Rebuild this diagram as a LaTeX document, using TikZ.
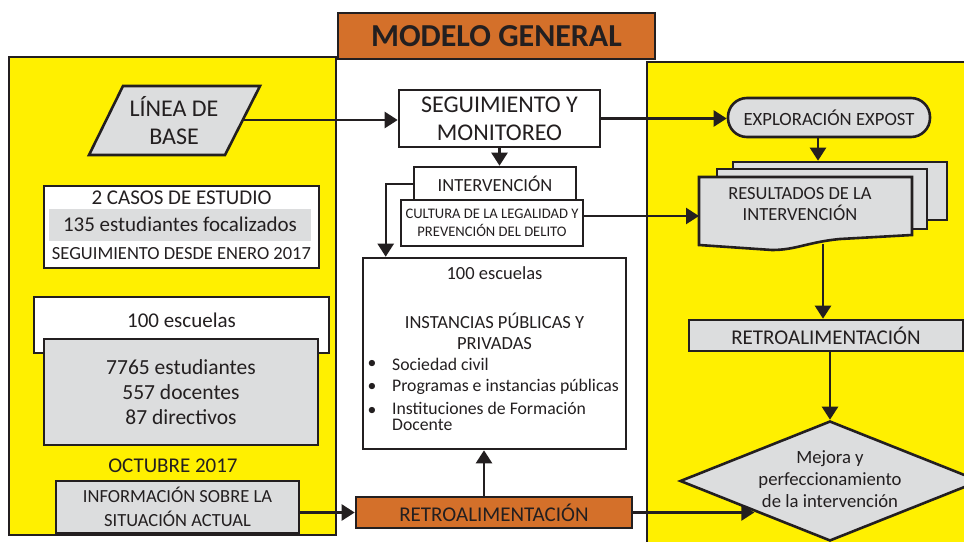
\documentclass[tikz,border=0pt]{standalone}
\usepackage{fontspec}
\setmainfont{Carlito}
\usetikzlibrary{arrows.meta,shapes.geometric}
\definecolor{ylw}{HTML}{FFF000}
\definecolor{org}{HTML}{D4702A}
\definecolor{gry}{HTML}{DCDDDE}
\definecolor{ink}{HTML}{231F20}
\newcommand\myfs[2]{\fontsize{#1}{#2}\selectfont}
\tikzset{
  panel/.style={draw=ink, line width=2.6pt, inner sep=0pt},
  box/.style={draw=ink, line width=2.6pt, inner sep=0pt, align=center, text=ink},
  txt/.style={inner sep=0pt, align=center, text=ink},
  arr/.style={draw=ink, line width=2.4pt, -{Triangle[length=13pt,width=16pt]}},
  ln/.style={draw=ink, line width=2.4pt},
}
\begin{document}
\begin{tikzpicture}[x=1pt,y=-1pt]
\useasboundingbox (0,0) rectangle (964,541);
\clip (0,0) rectangle (964,541);
% panels
\node[panel, fill=ylw, minimum width=327, minimum height=478] (lp) at (172.5,296) {};
\node[panel, fill=ylw, minimum width=353, minimum height=538] (rp) at (823.5,331) {};
% title
\node[box, fill=org, minimum width=317, minimum height=46, font=\bfseries\myfs{32}{34}] (title) at (496.5,36) {MODELO GENERAL};
% left panel
\draw[draw=ink, line width=2.6pt, fill=gry] (123,86) -- (260,86) -- (225,155) -- (89,155) -- cycle;
\node[txt, font=\myfs{24}{28}] (base) at (174,121) {LÍNEA DE\\BASE};
\coordinate (baseR) at (243,120);

\node[box, fill=white, minimum width=275, minimum height=82] (casos) at (181.5,227) {};
\node[inner sep=0pt, fill=gry, minimum width=262, minimum height=32] (band) at (180,225) {};
\node[txt, font=\myfs{21}{22}] (casos1) at (181.5,198) {2 CASOS DE ESTUDIO};
\node[txt, font=\myfs{21}{22}] (casos2) at (180,224.5) {135 estudiantes focalizados};
\node[txt, font=\myfs{18.5}{20}] (casos3) at (181.5,254) {SEGUIMIENTO DESDE ENERO 2017};

\node[box, fill=white, minimum width=295, minimum height=56] (escL) at (181.5,325) {};
\node[txt, font=\myfs{21}{22}] (escLt) at (181.5,320) {100 escuelas};
\node[box, fill=gry, minimum width=274, minimum height=106, font=\myfs{21.5}{25}] (stats) at (181,392) {7765 estudiantes\\557 docentes\\87 directivos};
\node[txt, font=\myfs{21}{22}] (oct) at (173,466) {OCTUBRE 2017};
\node[box, fill=gry, minimum width=243, minimum height=52, font=\myfs{18.5}{24}] (info) at (177.5,507) {INFORMACIÓN SOBRE LA\\SITUACIÓN ACTUAL};

% middle
\node[box, fill=white, minimum width=201, minimum height=57, font=\myfs{24}{28}] (seg) at (499.5,118.5) {SEGUIMIENTO Y\\MONITOREO};
\node[box, fill=white, minimum width=162, minimum height=34, font=\myfs{18.5}{20}] (interv) at (495,184) {INTERVENCIÓN};
\node[box, fill=white, minimum width=182, minimum height=46, font=\myfs{14.6}{18}] (cult) at (492,223) {CULTURA DE LA LEGALIDAD Y\\PREVENCIÓN DEL DELITO};
\node[box, fill=white, minimum width=263, minimum height=191] (big) at (494.5,353.5) {};
\node[txt, font=\myfs{18.5}{20}] (big1) at (494.5,273) {100 escuelas};
\node[txt, font=\myfs{18.5}{21}] (big2) at (494.5,331) {INSTANCIAS PÚBLICAS Y\\PRIVADAS};
\node[txt, font=\myfs{17.7}{20}] (b1) at (372,364) {•};
\node[txt, font=\myfs{17.7}{20}] (b2) at (372,387) {•};
\node[txt, font=\myfs{17.7}{20}] (b3) at (372,411) {•};
\node[txt, anchor=west, font=\myfs{17.7}{20}] (i1) at (392,364) {Sociedad civil};
\node[txt, anchor=west, font=\myfs{17.7}{20}] (i2) at (392,387) {Programas e instancias públicas};
\node[txt, anchor=north west, align=left, font=\myfs{17.7}{16}] (i3) at (392,402) {Instituciones de Formación\\Docente};
\node[box, fill=org, minimum width=276, minimum height=31, font=\myfs{21}{22}] (retroO) at (494,512.5) {RETROALIMENTACIÓN};

% right panel
\node[box, fill=gry, minimum width=202, minimum height=39, rounded corners=19pt, font=\myfs{18.7}{20}] (explo) at (829,117.5) {EXPLORACIÓN EXPOST};
\node[box, fill=gry, minimum width=214, minimum height=58] (docback) at (840,191) {};
\node[box, fill=gry, minimum width=210, minimum height=60] (docmid) at (822,199) {};
\draw[draw=ink, line width=2.6pt, fill=gry] (699,177) -- (912,177) -- (912,235) -- (840,239) .. controls (808,242) and (796,250) .. (772,250) -- (699,245) -- cycle;
\node[txt, font=\myfs{18.5}{21.5}] (resul) at (800,204) {RESULTADOS DE LA\\INTERVENCIÓN};
\coordinate (resL) at (699,216);
\coordinate (resB) at (823,244);
\node[box, fill=gry, minimum width=274, minimum height=31, font=\myfs{21}{22}] (retroG) at (826,335.5) {RETROALIMENTACIÓN};
\node[draw=ink, line width=2.6pt, fill=gry, shape=diamond, minimum width=300, minimum height=120, inner sep=0pt] (dmd) at (830,481) {};
\node[txt, font=\myfs{18.7}{22}] (dmdt) at (830,479) {Mejora y\\perfeccionamiento\\de la intervención};

% connectors
\draw[arr] (baseR) -- (baseR -| seg.west);
\draw[arr] (seg.east) -- (seg.east -| explo.west);
\draw[arr] (seg.south) -- (seg.south |- interv.north);
\draw[arr] (interv.west) -| ([xshift=24pt]big.north west);
\draw[arr] (resL -| cult.east) -- (resL);
\draw[arr] ([xshift=-11pt]explo.south) -- ([xshift=-11pt]explo.south |- docback.north);
\draw[arr] (resB) -- (resB |- retroG.north);
\draw[arr] (retroG.south -| dmd.north) -- (dmd.north);
\draw[arr] (retroO.west -| info.east) -- (retroO.west);
\draw[arr] ([xshift=-10pt]retroO.north) -- ([xshift=-10pt]retroO.north |- big.south);
\draw[arr] (retroO.east) -- (retroO.east -| dmd.south west);
\end{tikzpicture}
\end{document}
